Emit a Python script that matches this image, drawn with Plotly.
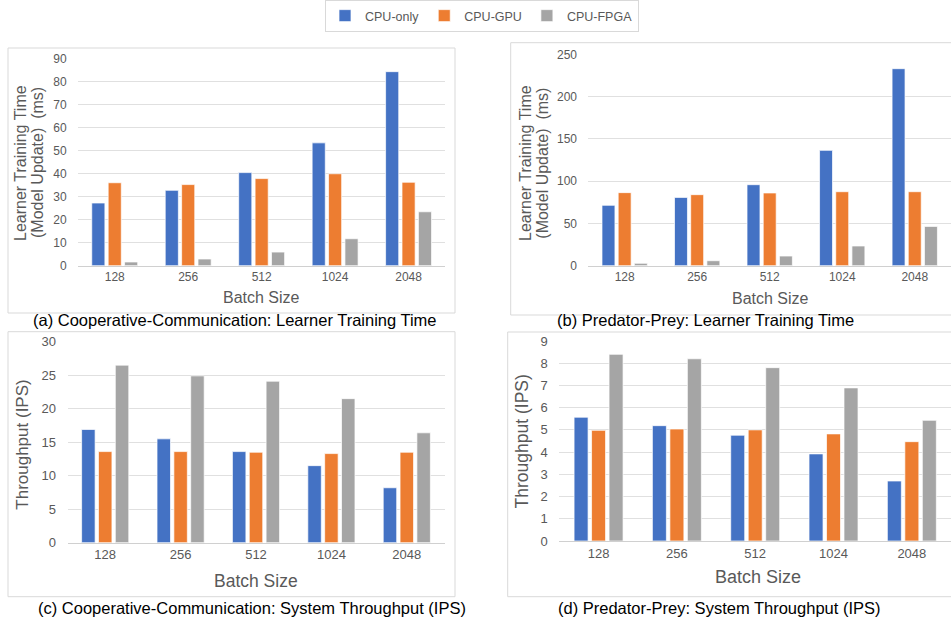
import plotly.graph_objects as go

W, H = 951, 620

batch_sizes = ["128", "256", "512", "1024", "2048"]
series_names = ["CPU-only", "CPU-GPU", "CPU-FPGA"]
colors = ["#4472C4", "#ED7D31", "#A5A5A5"]

# (a) Cooperative-Communication: Learner Training Time (ms)
cc_train_cpu = [27.2, 32.7, 40.4, 53.3, 84.2]
cc_train_gpu = [36.0, 35.2, 37.8, 39.9, 36.2]
cc_train_fpga = [1.6, 2.9, 5.9, 11.7, 23.4]

# (b) Predator-Prey: Learner Training Time (ms)
pp_train_cpu = [71.4, 80.8, 95.8, 136.4, 233.0]
pp_train_gpu = [86.4, 84.0, 86.0, 87.5, 87.5]
pp_train_fpga = [2.8, 5.9, 11.4, 23.3, 46.5]

# (c) Cooperative-Communication: System Throughput (IPS)
cc_tp_cpu = [16.9, 15.5, 13.6, 11.5, 8.2]
cc_tp_gpu = [13.6, 13.6, 13.5, 13.3, 13.5]
cc_tp_fpga = [26.5, 24.9, 24.1, 21.5, 16.4]

# (d) Predator-Prey: System Throughput (IPS)
pp_tp_cpu = [5.57, 5.19, 4.76, 3.92, 2.70]
pp_tp_gpu = [4.98, 5.04, 5.00, 4.82, 4.47]
pp_tp_fpga = [8.40, 8.20, 7.80, 6.89, 5.43]

captions = [
    "(a) Cooperative-Communication: Learner Training Time",
    "(b) Predator-Prey: Learner Training Time",
    "(c) Cooperative-Communication: System Throughput (IPS)",
    "(d) Predator-Prey: System Throughput (IPS)",
]


def px(x):
    return x / W


def py(y):
    return 1 - y / H


panels = [
    dict(data=[cc_train_cpu, cc_train_gpu, cc_train_fpga], box=(78, 445.3, 58.3, 265.7),
         yr=[0, 90], dt=10, tf=12, frame=(8, 455, 48, 313), cap=(235, 320),
         xt=(261.7, 297.7, 16), yt=[("Learner Training Time", 20), ("(Model Update)  (ms)", 37)],
         ytc=163, ytf=16),
    dict(data=[pp_train_cpu, pp_train_gpu, pp_train_fpga], box=(588.4, 951, 54.3, 265.7),
         yr=[0, 250], dt=50, tf=12, frame=(510.7, 955, 42.7, 315), cap=(705.5, 320),
         xt=(770, 299, 16), yt=[("Learner Training Time", 525), ("(Model Update)  (ms)", 541.7)],
         ytc=163, ytf=16),
    dict(data=[cc_tp_cpu, cc_tp_gpu, cc_tp_fpga], box=(67.5, 444.5, 341.7, 542.7),
         yr=[0, 30], dt=5, tf=13, frame=(8, 455, 331.7, 596.7), cap=(252, 608),
         xt=(256, 580.7, 17.5), yt=[("Throughput (IPS)", 21.7)], ytc=445, ytf=17),
    dict(data=[pp_tp_cpu, pp_tp_gpu, pp_tp_fpga], box=(559.4, 951, 341, 541),
         yr=[0, 9], dt=1, tf=13, frame=(507.7, 955, 332, 596.7), cap=(718.5, 608),
         xt=(758, 576.7, 18), yt=[("Throughput (IPS)", 521.7)], ytc=441.7, ytf=17.5),
]

fig = go.Figure()
annotations = []
shapes = []
FONT = "Liberation Sans, Arial, sans-serif"
GRAY = "#595959"

for i, p in enumerate(panels):
    n = i + 1
    xa = "x" if n == 1 else f"x{n}"
    ya = "y" if n == 1 else f"y{n}"
    for s in range(3):
        fig.add_trace(go.Bar(
            x=batch_sizes, y=p["data"][s], name=series_names[s],
            marker=dict(color=colors[s], line=dict(color="rgba(255,255,255,0.7)", width=1)),
            xaxis=xa, yaxis=ya, showlegend=(i == 0), legendgroup=series_names[s],
        ))
    x0, x1, y0, y1 = p["box"]
    xkey = "xaxis" if n == 1 else f"xaxis{n}"
    ykey = "yaxis" if n == 1 else f"yaxis{n}"
    fig.layout[xkey] = dict(
        domain=[px(x0), min(px(x1), 1)], anchor=ya, type="category", automargin=False,
        showgrid=False, showline=True, linecolor="#d0d0d0", linewidth=1,
        ticks="", tickfont=dict(size=p["tf"], color=GRAY, family=FONT), fixedrange=True,
    )
    fig.layout[ykey] = dict(
        domain=[py(y1), py(y0)], anchor=xa, range=p["yr"], dtick=p["dt"], tick0=0,
        automargin=False,
        showgrid=True, gridcolor="#e0e0e0", gridwidth=1, zeroline=False, showline=False,
        ticks="outside", ticklen=8, tickcolor="rgba(0,0,0,0)",
        tickfont=dict(size=p["tf"], color=GRAY, family=FONT), fixedrange=True,
    )
    fx0, fx1, fy0, fy1 = p["frame"]
    shapes.append(dict(type="rect", xref="paper", yref="paper",
                       x0=px(fx0), x1=px(fx1), y0=py(fy1), y1=py(fy0),
                       line=dict(color="#d9d9d9", width=1), fillcolor="rgba(0,0,0,0)", layer="below"))
    cx, cy = p["cap"]
    annotations.append(dict(text=captions[i], x=px(cx), y=py(cy), xref="paper", yref="paper",
                            showarrow=False, xanchor="center", yanchor="middle",
                            font=dict(size=16.5, color="black", family=FONT)))
    tx, ty, tfs = p["xt"]
    annotations.append(dict(text="Batch Size", x=px(tx), y=py(ty), xref="paper", yref="paper",
                            showarrow=False, xanchor="center", yanchor="middle",
                            font=dict(size=tfs, color=GRAY, family=FONT)))
    for txt, lx in p["yt"]:
        annotations.append(dict(text=txt, x=px(lx), y=py(p["ytc"]), xref="paper", yref="paper",
                                showarrow=False, xanchor="center", yanchor="middle", textangle=-90,
                                font=dict(size=p["ytf"], color=GRAY, family=FONT)))

fig.update_layout(
    width=W, height=H, margin=dict(l=0, r=0, t=0, b=0, pad=0, autoexpand=False),
    paper_bgcolor="white", plot_bgcolor="white",
    barmode="group", bargap=0.33, bargroupgap=0.2,
    font=dict(family=FONT, color=GRAY),
    showlegend=True,
    legend=dict(orientation="h", x=px(482), y=1.0, xanchor="center", yanchor="top",
                bordercolor="#d9d9d9", borderwidth=1, bgcolor="white",
                font=dict(size=12.5, color=GRAY, family=FONT), itemwidth=30,
                tracegroupgap=0),
    annotations=annotations, shapes=shapes,
)

fig.write_html("out.html", config={"displayModeBar": False},
               post_script="document.body.style.margin='0';document.body.style.overflow='hidden';")
